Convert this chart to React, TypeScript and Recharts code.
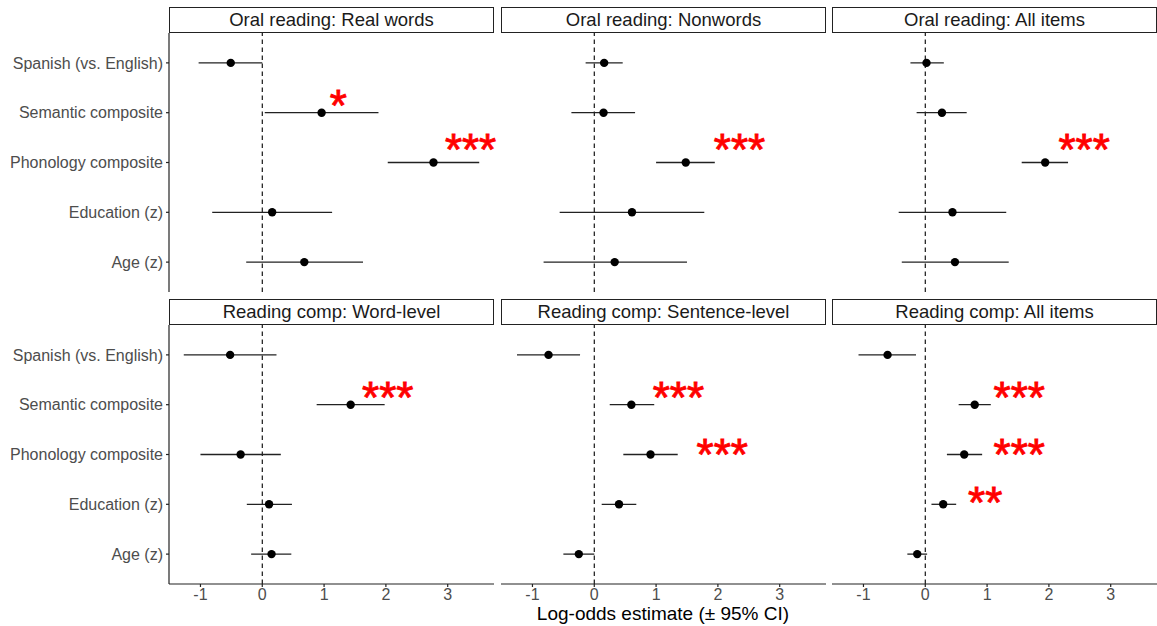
import React from 'react';
import { ScatterChart, Scatter, XAxis, YAxis, ErrorBar, ReferenceLine } from 'recharts';

const terms = ['Spanish (vs. English)', 'Semantic composite', 'Phonology composite', 'Education (z)', 'Age (z)'];
// ggplot-style discrete positions: first term on top
const termPositions = [5, 4, 3, 2, 1];
const xTicks = [-1, 0, 1, 2, 3];
const xDomain = [-1.509, 3.749];
const yDomain = [0.4, 5.6];

// Oral reading: Real words
const realWordsEst = [-0.51, 0.96, 2.77, 0.16, 0.68];
const realWordsLo = [-1.03, 0.04, 2.03, -0.81, -0.26];
const realWordsHi = [0.0, 1.88, 3.51, 1.13, 1.63];
const realWordsStars = [{ label: '*', x: 1.23, y: 4.25 }, { label: '***', x: 3.37, y: 3.36 }];

// Oral reading: Nonwords
const nonwordsEst = [0.16, 0.15, 1.48, 0.61, 0.33];
const nonwordsLo = [-0.14, -0.37, 1.0, -0.56, -0.82];
const nonwordsHi = [0.46, 0.66, 1.95, 1.78, 1.5];
const nonwordsStars = [{ label: '***', x: 2.35, y: 3.36 }];

// Oral reading: All items
const oralAllEst = [0.02, 0.27, 1.94, 0.44, 0.48];
const oralAllLo = [-0.24, -0.14, 1.56, -0.43, -0.38];
const oralAllHi = [0.3, 0.67, 2.31, 1.31, 1.35];
const oralAllStars = [{ label: '***', x: 2.57, y: 3.36 }];

// Reading comp: Word-level
const wordLevelEst = [-0.52, 1.43, -0.35, 0.11, 0.15];
const wordLevelLo = [-1.27, 0.88, -1.0, -0.25, -0.18];
const wordLevelHi = [0.23, 1.98, 0.3, 0.48, 0.47];
const wordLevelStars = [{ label: '***', x: 2.03, y: 4.25 }];

// Reading comp: Sentence-level
const sentenceEst = [-0.74, 0.6, 0.91, 0.4, -0.25];
const sentenceLo = [-1.25, 0.25, 0.47, 0.12, -0.5];
const sentenceHi = [-0.23, 0.97, 1.35, 0.68, 0.0];
const sentenceStars = [{ label: '***', x: 1.36, y: 4.25 }, { label: '***', x: 2.07, y: 3.1 }];

// Reading comp: All items
const compAllEst = [-0.61, 0.8, 0.63, 0.29, -0.13];
const compAllLo = [-1.08, 0.54, 0.35, 0.1, -0.29];
const compAllHi = [-0.15, 1.06, 0.92, 0.5, 0.03];
const compAllStars = [
  { label: '***', x: 1.52, y: 4.25 },
  { label: '***', x: 1.52, y: 3.1 },
  { label: '**', x: 0.97, y: 2.15 },
];

const panels = [
  { title: 'Oral reading: Real words', est: realWordsEst, lo: realWordsLo, hi: realWordsHi, stars: realWordsStars },
  { title: 'Oral reading: Nonwords', est: nonwordsEst, lo: nonwordsLo, hi: nonwordsHi, stars: nonwordsStars },
  { title: 'Oral reading: All items', est: oralAllEst, lo: oralAllLo, hi: oralAllHi, stars: oralAllStars },
  { title: 'Reading comp: Word-level', est: wordLevelEst, lo: wordLevelLo, hi: wordLevelHi, stars: wordLevelStars },
  { title: 'Reading comp: Sentence-level', est: sentenceEst, lo: sentenceLo, hi: sentenceHi, stars: sentenceStars },
  { title: 'Reading comp: All items', est: compAllEst, lo: compAllLo, hi: compAllHi, stars: compAllStars },
];

const FONT = '"Liberation Sans", Arial, Helvetica, sans-serif';
const PLOT_W = 325;
const PLOT_H = 259;
const STRIP_H = 26;
const COL_LEFT = [169, 501, 832];
const ROW_TOP = [33, 325];
const Y_AXIS_W = 169;
const X_AXIS_H = 30;
const STAR_SIZE = 44;
const LINE = '#222';

const Dot = (p: any) => <circle cx={p.cx} cy={p.cy} r={4.2} fill="#000" />;

// asterisk glyph is drawn with its visual centre on the data point
const Star = (p: any) => (
  <text
    x={p.cx}
    y={p.cy + STAR_SIZE * 0.47}
    textAnchor="middle"
    fill="#ff0000"
    stroke="#ff0000"
    strokeWidth={0.9}
    fontSize={STAR_SIZE}
    fontFamily={FONT}
  >
    {p.payload.label}
  </text>
);

function Panel({ panel, col, row }: any) {
  const showY = col === 0;
  const showX = row === 1;
  const left = COL_LEFT[col];
  const top = ROW_TOP[row];
  const yW = showY ? Y_AXIS_W : 0;
  const xH = showX ? X_AXIS_H : 0;

  const points = terms.map((t, i) => ({
    term: t,
    x: panel.est[i],
    y: termPositions[i],
    err: [panel.est[i] - panel.lo[i], panel.hi[i] - panel.est[i]],
  }));

  return (
    <>
      <div
        style={{
          position: 'absolute', left, top: top - STRIP_H, width: PLOT_W, height: STRIP_H,
          boxSizing: 'border-box', border: `1px solid ${LINE}`, display: 'flex',
          alignItems: 'center', justifyContent: 'center', fontSize: 18.5, color: '#1a1a1a',
          fontFamily: FONT,
        }}
      >
        {panel.title}
      </div>
      <div style={{ position: 'absolute', left: left - yW, top }}>
        <ScatterChart
          width={yW + PLOT_W}
          height={PLOT_H + xH}
          margin={{ top: 0, right: 0, bottom: 0, left: 0 }}
          style={{ overflow: 'visible' }}
        >
          <XAxis
            type="number" dataKey="x" domain={xDomain} ticks={xTicks}
            hide={!showX} height={X_AXIS_H} tickSize={3} tickMargin={2}
            axisLine={{ stroke: LINE, strokeWidth: 1.2 }} tickLine={{ stroke: LINE, strokeWidth: 1.2 }}
            tick={{ fill: '#4d4d4d', fontSize: 16, fontFamily: FONT }}
          />
          <YAxis
            type="number" dataKey="y" domain={yDomain} ticks={termPositions}
            hide={!showY} width={Y_AXIS_W} tickSize={3} tickMargin={3}
            tickFormatter={(v: number) => terms[termPositions.indexOf(v)]}
            axisLine={{ stroke: LINE, strokeWidth: 1.2 }} tickLine={{ stroke: LINE, strokeWidth: 1.2 }}
            tick={{ fill: '#4d4d4d', fontSize: 16, fontFamily: FONT }}
          />
          <ReferenceLine x={0} stroke="#000" strokeWidth={1.1} strokeDasharray="4.5 3.5" />
          <Scatter data={points} shape={Dot} isAnimationActive={false}>
            <ErrorBar dataKey="err" direction="x" width={0} stroke={LINE} strokeWidth={1.3} isAnimationActive={false} />
          </Scatter>
          <Scatter data={panel.stars} shape={Star} isAnimationActive={false} />
        </ScatterChart>
      </div>
    </>
  );
}

export default function App() {
  return (
    <div style={{ position: 'relative', width: 1157, height: 626, background: '#fff', fontFamily: FONT }}>
      <style>{'body { margin: 0; } .recharts-surface { overflow: visible; }'}</style>
      {panels.map((p, i) => (
        <Panel key={p.title} panel={p} col={i % 3} row={Math.floor(i / 3)} />
      ))}
      <div
        style={{
          position: 'absolute', left: COL_LEFT[0], width: COL_LEFT[2] + PLOT_W - COL_LEFT[0], top: 603.5,
          textAlign: 'center', fontSize: 19, lineHeight: '19px', color: '#000', fontFamily: FONT,
        }}
      >
        Log-odds estimate (± 95% CI)
      </div>
    </div>
  );
}
